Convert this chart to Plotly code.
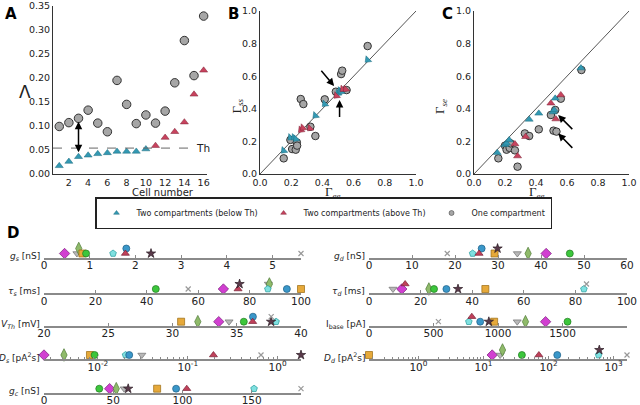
import numpy as np
import plotly.graph_objects as go

W, H = 640, 405

# ---------------- Panel A data ----------------
cell_number = list(range(1, 17))
lambda_one_comp = [0.099, 0.107, 0.116, 0.133, 0.106, 0.088, 0.195, 0.145,
                   0.105, 0.123, 0.106, 0.131, 0.190, 0.278, 0.205, 0.329]
lambda_two_comp = [0.017, 0.026, 0.036, 0.039, 0.042, 0.044, 0.047, 0.047,
                   0.047, 0.052, 0.059, 0.076, 0.088, 0.108, 0.166, 0.216]
threshold_th = 0.054

# ---------------- Panel B data ----------------
B_one_gee = [0.152, 0.195, 0.206, 0.229, 0.236, 0.238, 0.261, 0.278,
             0.323, 0.355, 0.415, 0.486, 0.520, 0.527, 0.555, 0.690]
B_one_gss = [0.096, 0.209, 0.153, 0.149, 0.194, 0.174, 0.460, 0.429,
             0.290, 0.233, 0.458, 0.505, 0.613, 0.634, 0.515, 0.785]
B_below_gee = [0.152, 0.195, 0.218, 0.230, 0.355, 0.415, 0.500, 0.512, 0.520, 0.690]
B_below_gss = [0.143, 0.223, 0.223, 0.215, 0.358, 0.429, 0.495, 0.511, 0.505, 0.700]
B_above_gee = [0.262, 0.275, 0.320, 0.490, 0.530, 0.550]
B_above_gss = [0.270, 0.283, 0.280, 0.480, 0.520, 0.520]

# ---------------- Panel C data ----------------
C_one_gee = [0.157, 0.200, 0.210, 0.230, 0.236, 0.264, 0.281, 0.328,
             0.356, 0.418, 0.496, 0.513, 0.524, 0.532, 0.560, 0.693]
C_one_gse = [0.096, 0.174, 0.149, 0.160, 0.188, 0.145, 0.045, 0.249,
             0.233, 0.274, 0.362, 0.266, 0.393, 0.260, 0.462, 0.638]
C_below_gee = [0.150, 0.200, 0.210, 0.227, 0.356, 0.418, 0.510, 0.517, 0.524, 0.690]
C_below_gse = [0.131, 0.180, 0.188, 0.209, 0.335, 0.372, 0.380, 0.393, 0.464, 0.650]
C_above_gee = [0.264, 0.281, 0.333, 0.496, 0.528, 0.560]
C_above_gse = [0.184, 0.110, 0.229, 0.434, 0.337, 0.485]

# ---------------- Panel D data (10 cells) ----------------
g_s    = [0.45, 0.72, 0.76, 0.84, 0.92, 1.51, 1.80, 1.78, 2.34, 5.62]
tau_s  = [69.8, 87.3, 87.7, 100.0, 43.5, 87.1, 94.5, 75.5, 76.1, 56.1]
V_Th   = [33.6, 34.4, 31.97, 30.67, 35.55, 38.06, 36.26, 36.24, 37.67, 37.68]
D_s    = [0.00251, 0.0308, 0.00419, 0.00815, 0.00918, 0.0203, 0.0223, 0.193, 1.82, 0.653]
g_c    = [47.4, 57.9, 52.2, 81.7, 39.9, 151.7, 95.4, 103.1, 60.8, 185.6]
g_d    = [41.2, 34.5, 37.0, 29.2, 46.7, 24.1, 26.2, 25.6, 29.9, 18.2]
tau_d  = [12.7, 9.3, 23.2, 45.1, 25.2, 83.3, 30.0, 14.0, 34.5, 84.3]
I_base = [1369, 1149, 1213, 970, 1539, 774, 862, 797, 929, 538]
D_d    = [13.6, 18.0, 19.6, 0.174, 38.9, 587, 136, 71, 602, 1604]

# styles for the 10 cells
cell_symbols = ['diamond', 'triangle-down', 'diamond-tall', 'square', 'circle',
                'pentagon', 'circle', 'triangle-up', 'star', 'x-thin']
cell_fill = ['#d13fd1', '#b8b8b8', '#8fba6a', '#e6a93a', '#3cc63c',
             '#7fe0e0', '#3a97c9', '#c0415a', '#5a3a4a', '#999999']
cell_edge = ['#7a1f7a', '#707070', '#4d7a35', '#9a6a10', '#1f7a1f',
             '#1f9a9a', '#1d5f85', '#7a2035', '#2a1a22', '#999999']
cell_size = [8, 7, 9, 7, 7, 7, 7, 7, 7, 5]

BLUE = '#3399b3'
RED = '#c8435e'
GRAY = '#a6a6a6'
FONT = 'DejaVu Sans'
SERIF = 'Liberation Serif'
TICKF_ABC = dict(family=FONT, size=9.5, color='#222')
TICKF_D = dict(family=FONT, size=10.5, color='#222')


def px(x):
    return x / W


def py(y):
    return 1 - y / H


fig = go.Figure()
layout = dict(width=W, height=H, margin=dict(l=0, r=0, t=0, b=0, pad=0, autoexpand=False),
              paper_bgcolor='white', plot_bgcolor='white',
              font=dict(family=FONT, size=10.5, color='#222'),
              showlegend=True)
annotations = []
shapes = []


def ax_key(kind, n):
    return kind + ('' if n == 1 else str(n))


# ---------------- Panel A ----------------
below = [i for i, v in enumerate(lambda_two_comp) if v < threshold_th]
above = [i for i, v in enumerate(lambda_two_comp) if v >= threshold_th]
fig.add_trace(go.Scatter(x=[cell_number[i] for i in below], y=[lambda_two_comp[i] for i in below],
                         mode='markers', showlegend=False,
                         marker=dict(symbol='triangle-up', size=7, color=BLUE,
                                     line=dict(width=0.5, color='#1d6a7d')),
                         xaxis='x', yaxis='y', cliponaxis=False))
fig.add_trace(go.Scatter(x=[cell_number[i] for i in above], y=[lambda_two_comp[i] for i in above],
                         mode='markers', showlegend=False,
                         marker=dict(symbol='triangle-up', size=7, color=RED,
                                     line=dict(width=0.5, color='#7a2035')),
                         xaxis='x', yaxis='y', cliponaxis=False))
fig.add_trace(go.Scatter(x=cell_number, y=lambda_one_comp, mode='markers', showlegend=False,
                         marker=dict(symbol='circle', size=8.5, color=GRAY,
                                     line=dict(width=1, color='#333')),
                         xaxis='x', yaxis='y', cliponaxis=False))

# legend proxies (no data, legend entries only)
for nm, sym, col, ec in [('Two compartments (below Th)', 'triangle-up', BLUE, '#1d6a7d'),
                         ('Two compartments (above Th)', 'triangle-up', RED, '#7a2035'),
                         ('One compartment', 'circle', GRAY, '#333')]:
    fig.add_trace(go.Scatter(x=[None], y=[None], mode='markers', name=nm,
                             marker=dict(symbol=sym, size=5, color=col, line=dict(width=0.5, color=ec)),
                             xaxis='x', yaxis='y'))

axA = dict(showline=True, linecolor='#333', linewidth=1, ticks='', showgrid=False,
           zeroline=False, tickfont=TICKF_ABC, automargin=False)
layout['xaxis'] = dict(axA, domain=[px(53), px(207)], range=[0.35, 16.35],
                       tickvals=list(range(2, 17, 2)), anchor='y')
layout['yaxis'] = dict(axA, domain=[py(174), py(6)], range=[0, 0.35],
                       tickvals=[0, 0.05, 0.1, 0.15, 0.2, 0.25, 0.3, 0.35],
                       tickformat='.2f', anchor='x')
shapes.append(dict(type='line', xref='x', yref='y', x0=0.35, x1=14.75,
                   y0=threshold_th, y1=threshold_th,
                   line=dict(color='#666', width=1, dash='dash')))
annotations.append(dict(x=14.95, y=threshold_th, xref='x', yref='y', text='Th',
                        showarrow=False, xanchor='left', yanchor='middle',
                        font=dict(family=FONT, size=10.5)))
annotations.append(dict(x=3, y=0.109, ax=3, ay=0.042, xref='x', yref='y', axref='x', ayref='y',
                        text='', showarrow=True, arrowhead=2, startarrowhead=2,
                        arrowside='end+start', arrowsize=1, arrowwidth=1.5, arrowcolor='black'))
annotations.append(dict(x=px(130), y=py(192), xref='paper', yref='paper', text='Cell number',
                        showarrow=False, font=dict(family=FONT, size=10)))
annotations.append(dict(x=px(18), y=py(81), xref='paper', yref='paper', text='Λ',
                        showarrow=False, borderpad=0, font=dict(family=FONT, size=17)))

# ---------------- Panels B & C ----------------
def scatter_panel(n, xd, x_one, y_one, x_b, y_b, x_a, y_a, tri_angle):
    xa, ya = 'x%d' % n, 'y%d' % n
    fig.add_trace(go.Scatter(x=x_one, y=y_one, mode='markers', showlegend=False,
                             marker=dict(symbol='circle', size=7.5, color=GRAY,
                                         line=dict(width=1, color='#333')),
                             xaxis=xa, yaxis=ya, cliponaxis=False))
    fig.add_trace(go.Scatter(x=x_b, y=y_b, mode='markers', showlegend=False,
                             marker=dict(symbol='triangle-up', size=7, color=BLUE, angle=tri_angle,
                                         line=dict(width=0.5, color='#1d6a7d')),
                             xaxis=xa, yaxis=ya, cliponaxis=False))
    fig.add_trace(go.Scatter(x=x_a, y=y_a, mode='markers', showlegend=False,
                             marker=dict(symbol='triangle-up', size=7, color=RED, angle=tri_angle,
                                         line=dict(width=0.5, color='#7a2035')),
                             xaxis=xa, yaxis=ya, cliponaxis=False))
    ticks = [0, 0.2, 0.4, 0.6, 0.8, 1.0]
    layout[ax_key('xaxis', n)] = dict(axA, domain=[px(xd[0]), px(xd[1])], range=[0, 1],
                                      tickvals=ticks, tickformat='.1f', anchor=ya)
    layout[ax_key('yaxis', n)] = dict(axA, domain=[py(174), py(11)], range=[0, 1],
                                      tickvals=ticks, tickformat='.1f', anchor=xa)
    shapes.append(dict(type='line', xref=xa, yref=ya, x0=0, y0=0, x1=1, y1=1,
                       line=dict(color='#555', width=1), layer='below'))


scatter_panel(2, (260, 416), B_one_gee, B_one_gss, B_below_gee, B_below_gss,
              B_above_gee, B_above_gss, 225)
scatter_panel(3, (474, 629), C_one_gee, C_one_gse, C_below_gee, C_below_gse,
              C_above_gee, C_above_gse, 0)


def arrow(n, x, y, ax, ay):
    annotations.append(dict(x=x, y=y, ax=ax, ay=ay, xref='x%d' % n, yref='y%d' % n,
                            axref='x%d' % n, ayref='y%d' % n, text='', showarrow=True,
                            arrowhead=2, arrowsize=1, arrowwidth=1.5, arrowcolor='black'))


arrow(2, 0.475, 0.540, 0.385, 0.642)
arrow(2, 0.510, 0.454, 0.510, 0.341)
arrow(3, 0.543, 0.362, 0.644, 0.266)
arrow(3, 0.543, 0.249, 0.644, 0.151)

for xc, lab in [(237, 'Γ<sub><i>ss</i></sub>'), (451, 'Γ<sub><i>se</i></sub>')]:
    annotations.append(dict(x=px(xc), y=py(97), xref='paper', yref='paper', text=lab,
                            showarrow=False, textangle=-90, font=dict(family=SERIF, size=13)))
for xc in (333, 547):
    annotations.append(dict(x=px(xc), y=py(192), xref='paper', yref='paper',
                            text='Γ<sub><i>ee</i></sub>', showarrow=False,
                            font=dict(family=SERIF, size=13)))

# ---------------- Panel D ----------------
rows = [
    # values, label, column, axis-line y(px), type, range, tickvals, ticktext
    (g_s, '<i>g</i><sub><i>s</i></sub> [nS]', 'L', 257.5, 'linear', [0, 5.62], [0, 1, 2, 3, 4, 5], None),
    (tau_s, '<i>τ</i><sub><i>s</i></sub> [ms]', 'L', 293, 'linear', [0, 100], [0, 20, 40, 60, 80, 100], None),
    (V_Th, '<i>V</i><sub><i>Th</i></sub> [mV]', 'L', 325.7, 'linear', [20, 40], [20, 25, 30, 35, 40], None),
    (D_s, '<i>D</i><sub><i>s</i></sub> [pA<sup>2</sup>s]', 'L', 359, 'log', [np.log10(0.00251), np.log10(1.82)],
     [0.01, 0.1, 1], ['10<sup>-2</sup>', '10<sup>-1</sup>', '10<sup>0</sup>']),
    (g_c, '<i>g</i><sub><i>c</i></sub> [nS]', 'L', 392.7, 'linear', [0, 185.6], [0, 50, 100, 150], None),
    (g_d, '<i>g</i><sub><i>d</i></sub> [nS]', 'R', 257.5, 'linear', [0, 60], [0, 10, 20, 30, 40, 50, 60], None),
    (tau_d, '<i>τ</i><sub><i>d</i></sub> [ms]', 'R', 293, 'linear', [0, 100], [0, 20, 40, 60, 80, 100], None),
    (I_base, 'I<sub>base</sub> [pA]', 'R', 325.7, 'linear', [0, 2000], [0, 500, 1000, 1500, 2000], None),
    (D_d, '<i>D</i><sub><i>d</i></sub> [pA<sup>2</sup>s]', 'R', 359, 'log', [np.log10(0.174), np.log10(1604)],
     [1, 10, 100, 1000], ['10<sup>0</sup>', '10<sup>1</sup>', '10<sup>2</sup>', '10<sup>3</sup>']),
]
col_x = {'L': (44, 301), 'R': (369, 627)}
ROW_H = 16.0
BASE, UP = 4.0, 9.0
THR = 3.5  # px overlap threshold for stacking

for k, (vals, lab, col, ly, typ, rng, tv, tt) in enumerate(rows):
    n = 4 + k
    xa, ya = 'x%d' % n, 'y%d' % n
    x0p, x1p = col_x[col]
    tv_ = np.log10(vals) if typ == 'log' else np.array(vals, float)
    pix = x0p + (tv_ - rng[0]) / (rng[1] - rng[0]) * (x1p - x0p)
    order = sorted(range(len(vals)), key=lambda i: vals[i])
    level = [0] * len(vals)
    placed = []
    for i in order:
        clash = any(abs(pix[i] - pix[j]) < THR and level[j] == 0 for j in placed)
        level[i] = 1 if clash else 0
        placed.append(i)
    for i in range(len(vals)):
        is_x = cell_symbols[i].startswith('x')
        fig.add_trace(go.Scatter(
            x=[vals[i]], y=[UP if level[i] else BASE], mode='markers', showlegend=False,
            marker=dict(symbol=cell_symbols[i], size=cell_size[i], color=cell_fill[i],
                        line=dict(width=1.2 if is_x else 0.7, color=cell_edge[i])),
            xaxis=xa, yaxis=ya, cliponaxis=False))
    xd = dict(domain=[px(x0p), px(x1p)], type=typ, range=rng, tickvals=tv, anchor=ya,
              showline=True, linecolor='#8a8a8a', linewidth=2, showgrid=False, zeroline=False,
              ticks='inside', ticklen=3, tickwidth=1, tickcolor='#8a8a8a', tickfont=TICKF_D,
              automargin=False, ticklabelstandoff=-3)
    if tt:
        xd['ticktext'] = tt
        lo, hi = int(np.floor(rng[0])), int(np.ceil(rng[1]))
        mv = [m * 10.0 ** e for e in range(lo, hi + 1) for m in range(2, 10)
              if rng[0] <= np.log10(m * 10.0 ** e) <= rng[1]]
        xd['minor'] = dict(tickvals=mv, ticks='inside', ticklen=2, tickcolor='#8a8a8a')
    layout[ax_key('xaxis', n)] = xd
    layout[ax_key('yaxis', n)] = dict(domain=[py(ly), py(ly - ROW_H)], range=[0, ROW_H],
                                      visible=False, anchor=xa, fixedrange=True, automargin=False)
    annotations.append(dict(x=px(x0p - 2), y=py(ly - 1.5), xref='paper', yref='paper', text=lab,
                            showarrow=False, xanchor='right', yanchor='middle',
                            font=dict(family=FONT, size=9)))

# panel letters
for lx, ly, t in [(3, 3, 'A'), (226, 3, 'B'), (440, 3, 'C'), (5, 222, 'D')]:
    annotations.append(dict(x=px(lx), y=py(ly), xref='paper', yref='paper', text='<b>%s</b>' % t,
                            showarrow=False, xanchor='left', yanchor='top',
                            font=dict(family=FONT, size=15, color='black')))

layout['legend'] = dict(orientation='h', x=px(95), y=py(197), xanchor='left', yanchor='top',
                        bordercolor='#222', borderwidth=1.5, bgcolor='white',
                        font=dict(family=FONT, size=8), tracegroupgap=0, itemwidth=30)
layout['annotations'] = annotations
layout['shapes'] = shapes
fig.update_layout(**layout)
fig.write_html('out.html', config={'displayModeBar': False},
               post_script="document.body.style.margin='0';document.body.style.padding='0';")
